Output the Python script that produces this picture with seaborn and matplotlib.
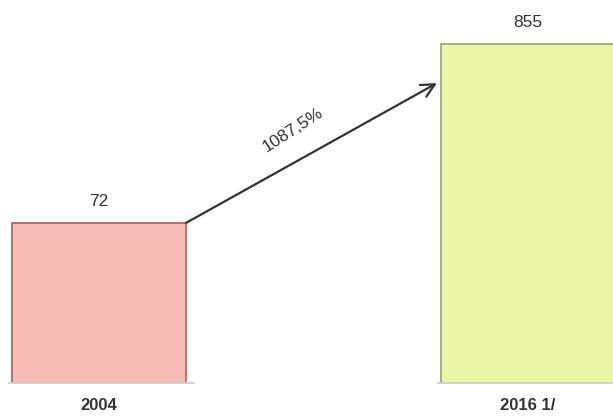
import matplotlib
matplotlib.use('Agg')
import matplotlib.pyplot as plt
import seaborn as sns

# ── Data ─────────────────────────────────────────────────────────────────────
years  = ["2004", "2016 1/"]
values = [72, 855]
growth_label = "1087,5%"

# ── Style ────────────────────────────────────────────────────────────────────
sns.set_theme(style="white")
plt.rcParams['font.family'] = ['Liberation Sans Narrow', 'Liberation Sans', 'DejaVu Sans']

fill_colors = ["#f6bdb4", "#eaf5a6"]
edge_colors = ["#b55a5a", "#9aa85e"]
BAR_W = 0.405

fig = plt.figure(figsize=(6.13, 4.16), dpi=100)
ax = fig.add_axes([0, 0.0793, 1, 0.9207])

x = list(range(len(years)))
sns.barplot(x=x, y=values, hue=x, palette=fill_colors, width=BAR_W,
            saturation=1, legend=False, ax=ax, native_scale=True)
for patch, ec in zip(ax.patches, edge_colors):
    patch.set_edgecolor(ec)
    patch.set_linewidth(1.2)

ax.set_yscale('log')
ax.set_ylim(7.87, 1572)
ax.set_xlim(-0.231, 1.198)

# light baseline under each bar
for xi in x:
    ax.hlines(ax.get_ylim()[0], xi - BAR_W / 2 - 0.01, xi + BAR_W / 2 + 0.02,
              color="#c8c8d8", lw=1.2, clip_on=False)

# value labels
for xi, v in zip(x, values):
    ax.annotate(f"{v}", (xi, v), xytext=(0, 10), textcoords='offset points',
                ha='center', va='bottom', fontsize=12.5, color="#333333")

# year labels
for xi, yr in zip(x, years):
    ax.text(xi, -0.058, yr, transform=ax.get_xaxis_transform(), ha='center',
            va='center', fontsize=12, fontweight='bold', color="#333333")

# growth arrow
ax.annotate("", xy=(1 - BAR_W / 2 - 0.01, 498), xytext=(BAR_W / 2, values[0]),
            arrowprops=dict(arrowstyle='->', color="#333333", lw=1.6,
                            mutation_scale=24, shrinkA=0, shrinkB=0))
ax.text(0.452, 262, growth_label, rotation=33, ha='center', va='center',
        fontsize=12.5, color="#333333")

ax.set_xticks([]); ax.set_yticks([])
sns.despine(ax=ax, left=True, bottom=True)
ax.set_facecolor('white')

fig.savefig('out.png', dpi=100, facecolor='white')
